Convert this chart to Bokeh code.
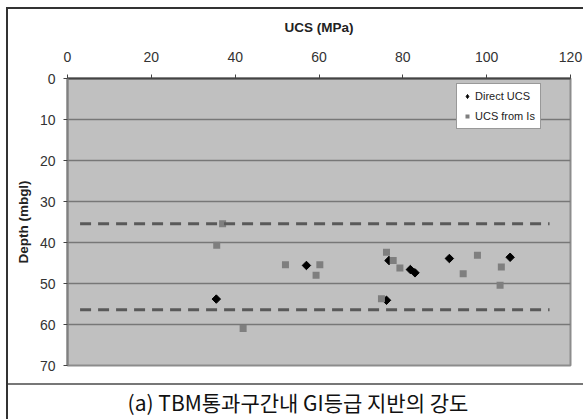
import numpy as np
from bokeh.plotting import figure
from bokeh.models import Range1d, Label, FixedTicker, Legend, LegendItem
from bokeh.layouts import column
from bokeh.embed import file_html
from bokeh.resources import INLINE

# ---- data ----
direct_ucs = [35.5, 57.0, 76.7, 81.8, 82.9, 91.1, 105.6, 76.1]
direct_depth = [53.8, 45.6, 44.4, 46.6, 47.4, 43.9, 43.6, 54.1]

is_ucs = [37.0, 35.6, 52.0, 60.2, 59.3, 41.9, 76.1, 77.7, 79.3, 97.8, 94.4, 103.5, 103.2, 74.9]
is_depth = [35.4, 40.7, 45.4, 45.4, 48.0, 61.0, 42.4, 44.4, 46.2, 43.1, 47.6, 46.0, 50.4, 53.7]

bound_x = [3, 115]
upper_bound = [35.4, 35.4]
lower_bound = [56.4, 56.4]

x_ticks = [0, 20, 40, 60, 80, 100, 120]
y_ticks = [0, 10, 20, 30, 40, 50, 60, 70]

caption = "(a) TBM통과구간내 GI등급 지반의 강도"

FONT = "Liberation Sans"

p = figure(frame_width=503, frame_height=287,
           x_range=Range1d(0, 120), y_range=Range1d(70, 0),
           x_axis_location="above",
           output_backend="svg", toolbar_location=None,
           min_border_left=61, min_border_right=13,
           min_border_top=71, min_border_bottom=18,
           background_fill_color="#c0c0c0", border_fill_color=None,
           outline_line_color="#8c8c8c", outline_line_width=2,
           styles={"box-shadow": "inset 2px 2px 0 0 #333"})

# axes
for ax in (p.xaxis[0], p.yaxis[0]):
    ax.major_label_text_font = FONT
    ax.major_label_text_font_size = "14px"
    ax.major_label_text_color = "#333333"
    ax.axis_label_text_font = FONT
    ax.axis_label_text_font_style = "bold"
    ax.axis_label_text_font_size = "13.5px"
    ax.axis_label_text_color = "#222222"
    ax.major_tick_in = 0
    ax.major_tick_out = 4
    ax.minor_tick_in = 0
    ax.minor_tick_out = 0
    ax.major_tick_line_color = "#444444"
    ax.axis_line_width = 2

p.xaxis.ticker = FixedTicker(ticks=x_ticks)
p.yaxis.ticker = FixedTicker(ticks=y_ticks)
p.xaxis.axis_label = "UCS (MPa)"
p.yaxis.axis_label = "Depth (mbgl)"
p.xaxis.axis_line_color = "#444444"
p.yaxis.axis_line_color = "#808080"
p.xaxis.major_label_standoff = 13
p.xaxis.axis_label_standoff = 14
p.yaxis.major_label_standoff = 8
p.yaxis.axis_label_standoff = 6

p.xgrid.visible = False
p.ygrid.ticker = FixedTicker(ticks=y_ticks)
p.ygrid.grid_line_color = "#777777"
p.ygrid.grid_line_width = 1.5

# series
r1 = p.scatter(direct_ucs, direct_depth, marker="square", angle=np.pi / 4,
               size=6, fill_color="black", line_color="black")
r2 = p.scatter(is_ucs, is_depth, marker="square", size=7,
               fill_color="#7f7f7f", line_color=None)
# legend-only glyph for the diamond symbol (placed outside the visible range)
r1_key = p.scatter([-50], [-50], marker="diamond", size=11,
                   fill_color="black", line_color="black")

p.line(bound_x, upper_bound, line_color="#595959", line_width=3, line_dash="11 7")
p.line(bound_x, lower_bound, line_color="#595959", line_width=3, line_dash="11 7")

lg = Legend(items=[LegendItem(label="Direct UCS", renderers=[r1_key]),
                   LegendItem(label="UCS from Is", renderers=[r2])])
p.add_layout(lg, "center")
lg.location = (389, 236)
lg.background_fill_color = "white"
lg.background_fill_alpha = 1
lg.border_line_color = "#333333"
lg.border_line_width = 1
lg.label_text_font = FONT
lg.label_text_font_size = "11px"
lg.label_text_color = "#222222"
lg.glyph_width = 10
lg.glyph_height = 12
lg.label_height = 14
lg.label_standoff = 3
lg.padding = 5
lg.spacing = 6
lg.margin = 0

# caption panel; its frame is aligned with the main frame by the column,
# so the x range is expressed in panel pixels of that frame (62..564)
cap = figure(width=577, height=36, x_range=Range1d(62, 564), y_range=Range1d(0, 36),
             x_axis_type=None, y_axis_type=None,
             output_backend="svg", toolbar_location=None,
             min_border=0, min_border_left=0, min_border_right=0,
             min_border_top=0, min_border_bottom=0,
             background_fill_color=None, border_fill_color=None,
             outline_line_color=None,
             styles={"box-shadow": "inset 2px 0 0 0 #333, inset 0 2px 0 0 #777"})
cap.grid.visible = False
cap.add_layout(Label(x=122, y=18, text=caption, text_align="left",
                     text_baseline="middle", text_font="Noto Sans CJK KR",
                     text_font_size="21px", text_color="#111111"))

layout = column(p, cap, spacing=0, margin=(7, 0, 0, 6))

open("out.html", "w").write(file_html(layout, INLINE))
